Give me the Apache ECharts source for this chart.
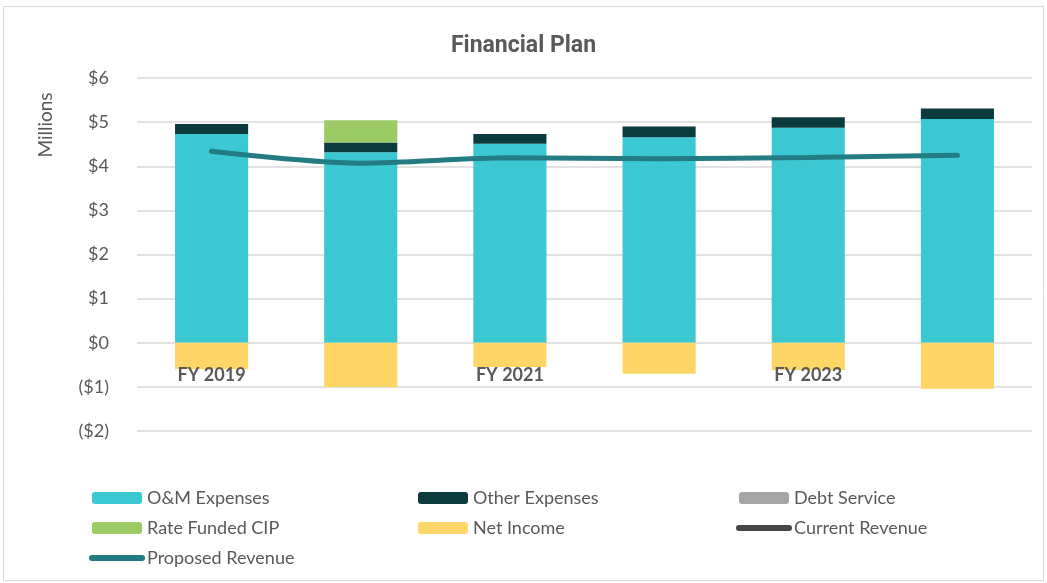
<!DOCTYPE html>
<html>
<head>
<meta charset="utf-8">
<script src="https://cdn.jsdelivr.net/npm/echarts@6/dist/echarts.min.js"></script>
<style>
html,body{margin:0;padding:0;background:#fff;}
#chart{width:1047px;height:583px;}
</style>
</head>
<body>
<div id="chart"></div>
<script>
// ---- data (millions of dollars) ----
const categories = ['FY 2019', 'FY 2020', 'FY 2021', 'FY 2022', 'FY 2023', 'FY 2024'];
const omExpenses = [4.73, 4.32, 4.51, 4.66, 4.87, 5.07];
const otherExpenses = [0.23, 0.22, 0.22, 0.24, 0.24, 0.24];
const debtService = [0, 0, 0, 0, 0, 0];
const rateFundedCIP = [0, 0.50, 0, 0, 0, 0];
const netIncome = [-0.6, -1.0, -0.55, -0.7, -0.62, -1.04];
const currentRevenue = [];
const proposedRevenue = [4.34, 4.07, 4.19, 4.17, 4.20, 4.25];
const yTicks = [-2, -1, 0, 1, 2, 3, 4, 5, 6];

const FONT = 'Lato, "Open Sans", sans-serif';
const GREY = '#595959';

const chart = echarts.init(document.getElementById('chart'), null, {renderer: 'canvas'});

function fmt(v) {
  return v < 0 ? '($' + (-v) + ')' : '$' + v;
}

const legendCommon = {
  orient: 'vertical',
  itemWidth: 50,
  itemHeight: 12,
  itemGap: 12,
  textStyle: {fontFamily: FONT, fontSize: 18, color: GREY},
  selectedMode: false
};
const lineLegend = (name) => ({name: name, itemStyle: {opacity: 0}, lineStyle: {width: 6, cap: 'round'}});

chart.setOption({
  animation: false,
  backgroundColor: '#fff',
  title: {
    text: 'Financial Plan',
    left: 'center',
    top: 30,
    textStyle: {fontFamily: '"Liberation Sans Narrow", "Roboto", sans-serif', fontSize: 23, fontWeight: 'bold', color: GREY}
  },
  graphic: [
    {type: 'rect', shape: {x: 3.5, y: 6.5, width: 1040, height: 574}, style: {fill: null, stroke: '#d9d9d9', lineWidth: 1}, silent: true, z: -1},
    {type: 'text', x: 46, y: 125, rotation: Math.PI / 2, style: {text: 'Millions', fontFamily: FONT, fontSize: 19, fill: GREY, align: 'center', verticalAlign: 'middle'}}
  ],
  legend: [
    Object.assign({left: 84, top: 484, data: ['O&M Expenses', 'Rate Funded CIP', lineLegend('Proposed Revenue')]}, legendCommon),
    Object.assign({left: 413, top: 484, data: ['Other Expenses', 'Net Income']}, legendCommon),
    Object.assign({left: 731, top: 484, data: ['Debt Service', lineLegend('Current Revenue')]}, legendCommon)
  ],
  grid: {left: 137, right: 15, top: 78, bottom: 152, containLabel: false},
  xAxis: {
    type: 'category',
    data: categories,
    axisLine: {show: false},
    axisTick: {show: false},
    axisLabel: {interval: 1, margin: -65, fontFamily: FONT, fontSize: 18, fontWeight: 'bold', color: GREY},
    z: 10
  },
  yAxis: {
    type: 'value',
    min: -2, max: 6, interval: 1,
    axisLine: {show: false},
    axisTick: {show: false},
    splitLine: {lineStyle: {color: '#d9d9d9', width: 1.5}},
    axisLabel: {formatter: fmt, margin: 28, fontFamily: FONT, fontSize: 18, color: GREY}
  },
  series: [
    {name: 'O&M Expenses', type: 'bar', stack: 'a', data: omExpenses, barWidth: '49%', itemStyle: {color: '#3cc8d3'}},
    {name: 'Other Expenses', type: 'bar', stack: 'a', data: otherExpenses, itemStyle: {color: '#0b3b3f'}},
    {name: 'Debt Service', type: 'bar', stack: 'a', data: debtService, itemStyle: {color: '#a5a5a5'}},
    {name: 'Rate Funded CIP', type: 'bar', stack: 'a', data: rateFundedCIP, itemStyle: {color: '#9ccb66'}},
    {name: 'Net Income', type: 'bar', stack: 'a', data: netIncome, itemStyle: {color: '#fdd667'}},
    {name: 'Current Revenue', type: 'line', data: currentRevenue, symbol: 'none', lineStyle: {color: '#454545', width: 5, cap: 'round'}, itemStyle: {color: '#454545'}},
    {name: 'Proposed Revenue', type: 'line', data: proposedRevenue, symbol: 'none', smooth: 0.3, z: 5,
     lineStyle: {color: '#237b84', width: 5, cap: 'round'}, itemStyle: {color: '#237b84'}}
  ]
});
</script>
</body>
</html>
